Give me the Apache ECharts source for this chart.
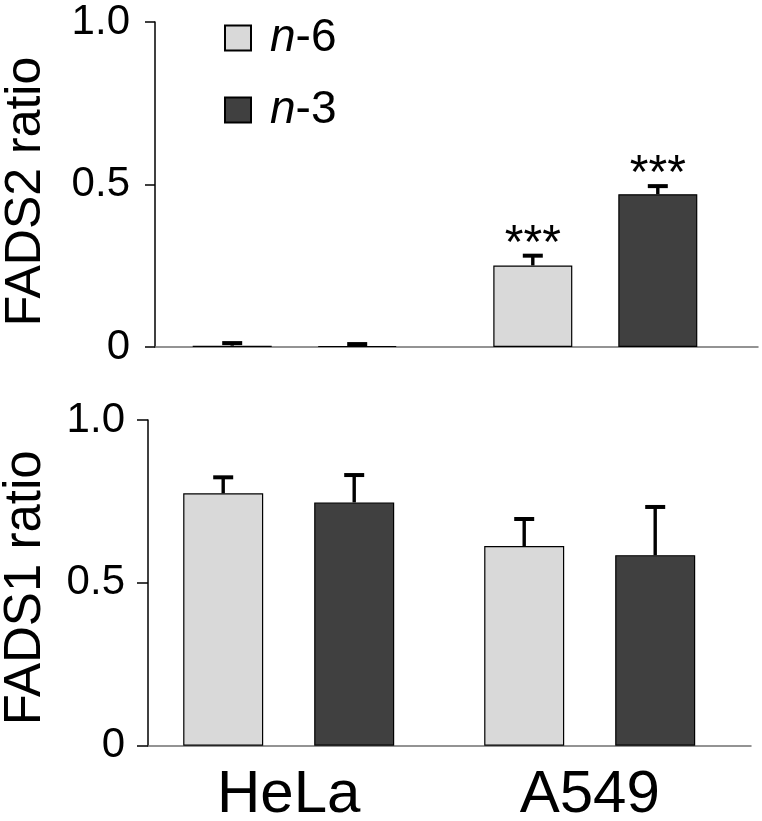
<!DOCTYPE html>
<html>
<head>
<meta charset="utf-8">
<script src="https://cdn.jsdelivr.net/npm/echarts@6/dist/echarts.min.js"></script>
<style>
html,body{margin:0;padding:0;background:#fff;}
#chart{width:762px;height:821px;}
</style>
</head>
<body>
<div id="chart"></div>
<script>
// ---- data ----
const categories = ['HeLa', 'A549'];
const seriesNames = ['n-6', 'n-3'];
const yTicks = [0, 0.5, 1.0];
const yTickLabels = ['0', '0.5', '1.0'];

const fads2N6 = [0.004, 0.251];
const fads2N6Err = [0.008, 0.030];
const fads2N3 = [0.003, 0.470];
const fads2N3Err = [0.006, 0.025];
const fads2N6Sig = ['', '***'];
const fads2N3Sig = ['', '***'];

const fads1N6 = [0.775, 0.613];
const fads1N6Err = [0.049, 0.083];
const fads1N3 = [0.747, 0.585];
const fads1N3Err = [0.084, 0.148];
const fads1N6Sig = ['', ''];
const fads1N3Sig = ['', ''];

const yNames = ['FADS2 ratio', 'FADS1 ratio'];

// ---- styles ----
const FONT = '"Liberation Sans", Arial, sans-serif';
const LIGHT = '#d9d9d9';
const DARK = '#404040';

const chart = echarts.init(document.getElementById('chart'), null, {renderer: 'canvas'});

function tickFmt(v) {
  const i = yTicks.findIndex(t => Math.abs(t - v) < 1e-9);
  return i >= 0 ? yTickLabels[i] : '';
}

function errSeries(name, xIdx, yIdx, vals, errs, sig, shift) {
  return {
    type: 'custom',
    name: name + ' err',
    xAxisIndex: xIdx, yAxisIndex: yIdx,
    silent: true, z: 5,
    data: vals.map((v, i) => [i, v, errs[i]]),
    renderItem: function (params, api) {
      const i = params.dataIndex;
      const v = api.value(1), e = api.value(2);
      const p0 = api.coord([api.value(0), v]);
      const p1 = api.coord([api.value(0), v + e]);
      const x = p0[0] + shift;
      const children = [
        {type: 'line', shape: {x1: x, y1: p0[1], x2: x, y2: p1[1]}, style: {stroke: '#000', lineWidth: 3.4}},
        {type: 'line', shape: {x1: x - 10, y1: p1[1], x2: x + 10, y2: p1[1]}, style: {stroke: '#000', lineWidth: 4}}
      ];
      if (sig[i]) {
        children.push({type: 'text', x: x, y: p1[1] - 11,
          style: {text: sig[i], font: '48px ' + FONT, fill: '#000', align: 'center', verticalAlign: 'middle'}});
      }
      return {type: 'group', children: children};
    }
  };
}

function barSeries(name, xIdx, yIdx, vals, color, bw, gap) {
  return {
    type: 'bar', name: name, xAxisIndex: xIdx, yAxisIndex: yIdx,
    data: vals, barWidth: bw, barGap: gap,
    itemStyle: {color: color, borderColor: '#000', borderWidth: 1.2},
    emphasis: {disabled: true}, z: 3
  };
}

const topBW = 79, topGap = 46;
const botBW = 80, botGap = 51;
const topShift = (topBW + topGap) / 2;
const botShift = (botBW + botGap) / 2;

const option = {
  backgroundColor: '#fff',
  animation: false,
  textStyle: {fontFamily: FONT},
  legend: {
    orient: 'vertical', left: 224, top: 15, padding: 0,
    icon: 'rect',
    itemWidth: 26, itemHeight: 25, itemGap: 26,
    data: seriesNames,
    formatter: n => '{i|' + n.charAt(0) + '}' + n.slice(1),
    textStyle: {fontSize: 46, color: '#000', fontFamily: FONT, padding: [0, 0, 0, 14],
      rich: {i: {fontSize: 46, fontStyle: 'italic', fontFamily: FONT, color: '#000'}}}
  },
  grid: [
    {left: 155, top: 22, width: 603, height: 325, outerBoundsMode: 'none'},
    {left: 144.4, top: 22, width: 601.2, height: 325, outerBoundsMode: 'none'},
    {left: 148, top: 420, width: 603, height: 325.7, outerBoundsMode: 'none'},
    {left: 138.2, top: 420, width: 602, height: 325.7, outerBoundsMode: 'none'}
  ],
  xAxis: [
    {gridIndex: 0, type: 'category', data: categories, axisLine: {lineStyle: {color: '#707070', width: 1.5}},
      axisTick: {show: false}, axisLabel: {show: false}},
    {gridIndex: 1, type: 'category', data: categories, show: false},
    {gridIndex: 2, type: 'category', data: categories, axisLine: {lineStyle: {color: '#707070', width: 1.5}},
      axisTick: {show: false}, axisLabel: {show: false}},
    {gridIndex: 3, type: 'category', data: categories, axisLine: {show: false}, axisTick: {show: false},
      axisLabel: {show: true, fontSize: 60, color: '#000', margin: 20, fontFamily: FONT}}
  ],
  yAxis: [
    {gridIndex: 0, type: 'value', min: 0, max: 1, interval: 0.5,
      name: yNames[0], nameLocation: 'middle', nameGap: 104,
      nameTextStyle: {fontSize: 50, color: '#000', fontFamily: FONT, padding: [0, 14, 0, 0]},
      axisLine: {show: true, lineStyle: {color: '#000', width: 1.5}},
      axisTick: {show: true, length: 10, lineStyle: {color: '#000', width: 1.5}},
      axisLabel: {fontSize: 42, color: '#000', margin: 25, formatter: tickFmt, fontFamily: FONT},
      splitLine: {show: false}},
    {gridIndex: 1, type: 'value', min: 0, max: 1, show: false, splitLine: {show: false}},
    {gridIndex: 2, type: 'value', min: 0, max: 1, interval: 0.5,
      name: yNames[1], nameLocation: 'middle', nameGap: 97,
      nameTextStyle: {fontSize: 51, color: '#000', fontFamily: FONT, padding: [0, 10, 0, 0]},
      axisLine: {show: true, lineStyle: {color: '#000', width: 1.5}},
      axisTick: {show: true, length: 11, lineStyle: {color: '#000', width: 1.5}},
      axisLabel: {fontSize: 42, color: '#000', margin: 23, formatter: tickFmt, fontFamily: FONT},
      splitLine: {show: false}},
    {gridIndex: 3, type: 'value', min: 0, max: 1, show: false, splitLine: {show: false}}
  ],
  color: [LIGHT, DARK],
  series: [
    barSeries(seriesNames[0], 1, 1, fads2N6, LIGHT, topBW, (topGap / topBW * 100) + '%'),
    barSeries(seriesNames[1], 1, 1, fads2N3, DARK, topBW, (topGap / topBW * 100) + '%'),
    errSeries(seriesNames[0], 1, 1, fads2N6, fads2N6Err, fads2N6Sig, -topShift),
    errSeries(seriesNames[1], 1, 1, fads2N3, fads2N3Err, fads2N3Sig, topShift),
    barSeries(seriesNames[0], 3, 3, fads1N6, LIGHT, botBW, (botGap / botBW * 100) + '%'),
    barSeries(seriesNames[1], 3, 3, fads1N3, DARK, botBW, (botGap / botBW * 100) + '%'),
    errSeries(seriesNames[0], 3, 3, fads1N6, fads1N6Err, fads1N6Sig, -botShift),
    errSeries(seriesNames[1], 3, 3, fads1N3, fads1N3Err, fads1N3Sig, botShift)
  ]
};
chart.setOption(option);
</script>
</body>
</html>
